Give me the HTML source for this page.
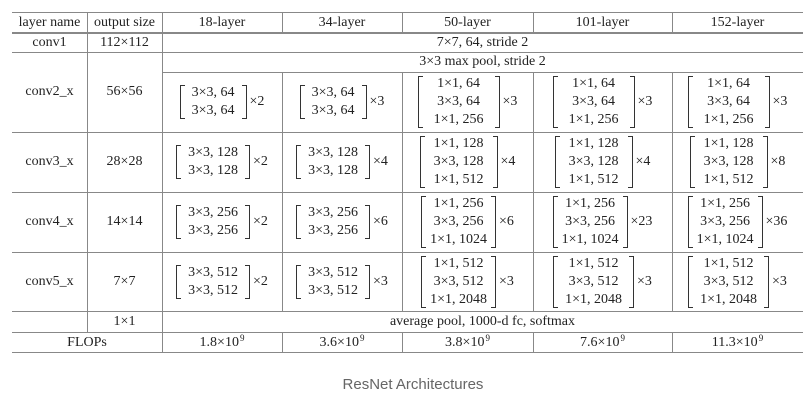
<!DOCTYPE html>
<html><head><meta charset="utf-8"><style>
body{margin:0;background:#fff;width:803px;height:406px;overflow:hidden;position:relative;font-family:"Liberation Serif",serif;font-size:14px;color:#222}
.h{position:absolute;height:1px;background:#888}
.v{position:absolute;width:1px;background:#888}
.c{position:absolute;display:flex;align-items:center;justify-content:center;white-space:nowrap}
.br{position:relative;padding:0 12px;line-height:18px;text-align:center}
.br::before,.br::after{content:"";position:absolute;top:1px;bottom:1px;width:4px;border:1.4px solid #333}
.br::before{left:0;border-right:none}
.br::after{right:0;border-left:none}
.m{margin-left:3px}
sup{font-size:9px;position:relative;top:-5px;vertical-align:baseline;line-height:0;margin-left:1px}
.cap{position:absolute;left:0;width:826px;top:376px;text-align:center;font-family:"Liberation Sans",sans-serif;font-size:15px;color:#666}
</style></head><body>
<div class="h" style="left:12px;width:791px;top:12px"></div>
<div class="h" style="left:12px;width:791px;top:32px;height:2px"></div>
<div class="h" style="left:12px;width:791px;top:52px"></div>
<div class="h" style="left:162px;width:641px;top:72px"></div>
<div class="h" style="left:12px;width:791px;top:132px"></div>
<div class="h" style="left:12px;width:791px;top:192px"></div>
<div class="h" style="left:12px;width:791px;top:252px"></div>
<div class="h" style="left:12px;width:791px;top:311px"></div>
<div class="h" style="left:12px;width:791px;top:332px"></div>
<div class="h" style="left:12px;width:791px;top:352px"></div>
<div class="v" style="left:87px;top:12px;height:320px"></div>
<div class="v" style="left:162px;top:12px;height:340px"></div>
<div class="v" style="left:282px;top:12px;height:21px"></div>
<div class="v" style="left:402px;top:12px;height:21px"></div>
<div class="v" style="left:533px;top:12px;height:21px"></div>
<div class="v" style="left:672px;top:12px;height:21px"></div>
<div class="v" style="left:282px;top:72px;height:240px"></div>
<div class="v" style="left:402px;top:72px;height:240px"></div>
<div class="v" style="left:533px;top:72px;height:240px"></div>
<div class="v" style="left:672px;top:72px;height:240px"></div>
<div class="v" style="left:282px;top:332px;height:20px"></div>
<div class="v" style="left:402px;top:332px;height:20px"></div>
<div class="v" style="left:533px;top:332px;height:20px"></div>
<div class="v" style="left:672px;top:332px;height:20px"></div>

<div class="c" style="left:12px;width:75px;top:12px;height:21px">layer name</div>
<div class="c" style="left:87px;width:75px;top:12px;height:21px">output size</div>
<div class="c" style="left:162px;width:120px;top:12px;height:21px">18-layer</div>
<div class="c" style="left:282px;width:120px;top:12px;height:21px">34-layer</div>
<div class="c" style="left:402px;width:131px;top:12px;height:21px">50-layer</div>
<div class="c" style="left:533px;width:139px;top:12px;height:21px">101-layer</div>
<div class="c" style="left:672px;width:131px;top:12px;height:21px">152-layer</div>

<div class="c" style="left:12px;width:75px;top:33px;height:19px">conv1</div>
<div class="c" style="left:87px;width:75px;top:33px;height:19px">112×112</div>
<div class="c" style="left:162px;width:641px;top:33px;height:19px">7×7, 64, stride 2</div>
<div class="c" style="left:162px;width:641px;top:52px;height:20px">3×3 max pool, stride 2</div>

<div class="c" style="left:12px;width:75px;top:52px;height:80px">conv2_x</div>
<div class="c" style="left:87px;width:75px;top:52px;height:80px">56×56</div>
<div class="c" style="left:12px;width:75px;top:132px;height:60px">conv3_x</div>
<div class="c" style="left:87px;width:75px;top:132px;height:60px">28×28</div>
<div class="c" style="left:12px;width:75px;top:192px;height:60px">conv4_x</div>
<div class="c" style="left:87px;width:75px;top:192px;height:60px">14×14</div>
<div class="c" style="left:12px;width:75px;top:252px;height:59px">conv5_x</div>
<div class="c" style="left:87px;width:75px;top:252px;height:59px">7×7</div>

<div class="c" style="left:162px;width:120px;top:72px;height:60px"><div class="br">3×3, 64<br>3×3, 64</div><span class="m">×2</span></div>
<div class="c" style="left:282px;width:120px;top:72px;height:60px"><div class="br">3×3, 64<br>3×3, 64</div><span class="m">×3</span></div>
<div class="c" style="left:402px;width:131px;top:72px;height:60px"><div class="br" style="padding:0 16px">1×1, 64<br>3×3, 64<br>1×1, 256</div><span class="m">×3</span></div>
<div class="c" style="left:533px;width:139px;top:72px;height:60px"><div class="br" style="padding:0 16px">1×1, 64<br>3×3, 64<br>1×1, 256</div><span class="m">×3</span></div>
<div class="c" style="left:672px;width:131px;top:72px;height:60px"><div class="br" style="padding:0 16px">1×1, 64<br>3×3, 64<br>1×1, 256</div><span class="m">×3</span></div>

<div class="c" style="left:162px;width:120px;top:132px;height:60px"><div class="br">3×3, 128<br>3×3, 128</div><span class="m">×2</span></div>
<div class="c" style="left:282px;width:120px;top:132px;height:60px"><div class="br">3×3, 128<br>3×3, 128</div><span class="m">×4</span></div>
<div class="c" style="left:402px;width:131px;top:132px;height:60px"><div class="br" style="padding:0 14px">1×1, 128<br>3×3, 128<br>1×1, 512</div><span class="m">×4</span></div>
<div class="c" style="left:533px;width:139px;top:132px;height:60px"><div class="br" style="padding:0 14px">1×1, 128<br>3×3, 128<br>1×1, 512</div><span class="m">×4</span></div>
<div class="c" style="left:672px;width:131px;top:132px;height:60px"><div class="br" style="padding:0 14px">1×1, 128<br>3×3, 128<br>1×1, 512</div><span class="m">×8</span></div>

<div class="c" style="left:162px;width:120px;top:192px;height:60px"><div class="br">3×3, 256<br>3×3, 256</div><span class="m">×2</span></div>
<div class="c" style="left:282px;width:120px;top:192px;height:60px"><div class="br">3×3, 256<br>3×3, 256</div><span class="m">×6</span></div>
<div class="c" style="left:402px;width:131px;top:192px;height:60px"><div class="br" style="padding:0 9px">1×1, 256<br>3×3, 256<br>1×1, 1024</div><span class="m">×6</span></div>
<div class="c" style="left:533px;width:139px;top:192px;height:60px"><div class="br" style="padding:0 9px">1×1, 256<br>3×3, 256<br>1×1, 1024</div><span class="m">×23</span></div>
<div class="c" style="left:672px;width:131px;top:192px;height:60px"><div class="br" style="padding:0 9px">1×1, 256<br>3×3, 256<br>1×1, 1024</div><span class="m">×36</span></div>

<div class="c" style="left:162px;width:120px;top:252px;height:59px"><div class="br">3×3, 512<br>3×3, 512</div><span class="m">×2</span></div>
<div class="c" style="left:282px;width:120px;top:252px;height:59px"><div class="br">3×3, 512<br>3×3, 512</div><span class="m">×3</span></div>
<div class="c" style="left:402px;width:131px;top:252px;height:59px"><div class="br" style="padding:0 9px">1×1, 512<br>3×3, 512<br>1×1, 2048</div><span class="m">×3</span></div>
<div class="c" style="left:533px;width:139px;top:252px;height:59px"><div class="br" style="padding:0 12px">1×1, 512<br>3×3, 512<br>1×1, 2048</div><span class="m">×3</span></div>
<div class="c" style="left:672px;width:131px;top:252px;height:59px"><div class="br" style="padding:0 12px">1×1, 512<br>3×3, 512<br>1×1, 2048</div><span class="m">×3</span></div>

<div class="c" style="left:87px;width:75px;top:312px;height:20px">1×1</div>
<div class="c" style="left:162px;width:641px;top:312px;height:20px">average pool, 1000-d fc, softmax</div>

<div class="c" style="left:12px;width:150px;top:333px;height:19px">FLOPs</div>
<div class="c" style="left:162px;width:120px;top:333px;height:19px">1.8×10<sup>9</sup></div>
<div class="c" style="left:282px;width:120px;top:333px;height:19px">3.6×10<sup>9</sup></div>
<div class="c" style="left:402px;width:131px;top:333px;height:19px">3.8×10<sup>9</sup></div>
<div class="c" style="left:533px;width:139px;top:333px;height:19px">7.6×10<sup>9</sup></div>
<div class="c" style="left:672px;width:131px;top:333px;height:19px">11.3×10<sup>9</sup></div>

<div class="cap">ResNet Architectures</div>
</body></html>
